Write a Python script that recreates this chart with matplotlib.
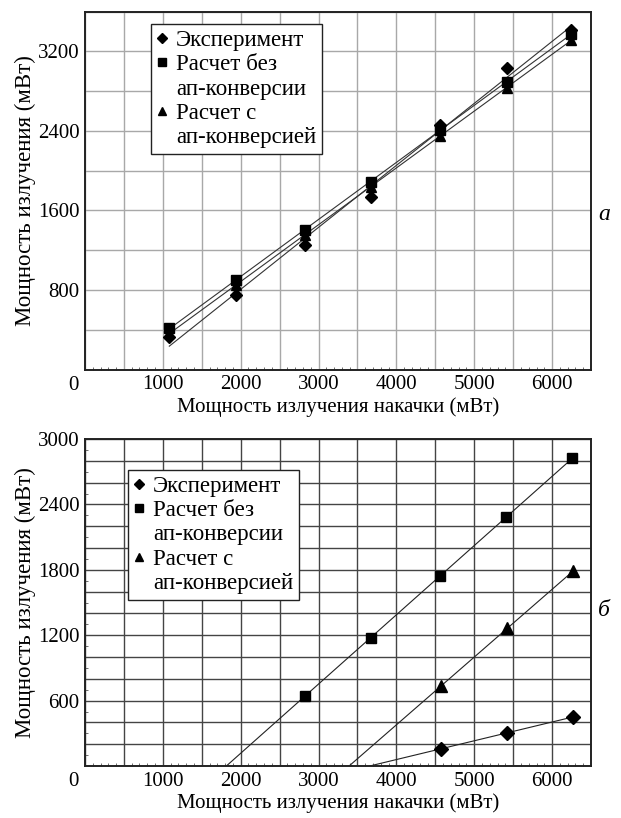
import numpy as np
import matplotlib
matplotlib.use('Agg')
import matplotlib.pyplot as plt
from matplotlib.lines import Line2D
from matplotlib.ticker import MultipleLocator

plt.rcParams['font.family'] = ['Liberation Serif', 'DejaVu Serif']
plt.rcParams['font.size'] = 14

# --- панель а ---
xa = [1083, 1941, 2829, 3674, 4554, 5416, 6248]
exp_a = [323, 750, 1247, 1733, 2460, 3033, 3417]
bez_a = [417, 900, 1407, 1883, 2410, 2890, 3377]
s_a = [367, 850, 1350, 1840, 2350, 2827, 3317]

# --- панель б ---
xb_bez = [2825, 3674, 4558, 5407, 6261]
bez_b = [645, 1172, 1744, 2283, 2822]
xb_s = [4571, 5420, 6270]
s_b = [731, 1263, 1787]
xb_exp = [4575, 5420, 6270]
exp_b = [158, 304, 450]

LEG_LABELS = ['Эксперимент', 'Расчет без', 'ап-конверсии', 'Расчет с', 'ап-конверсией']
XLAB = 'Мощность излучения накачки (мВт)'
YLAB = 'Мощность излучения (мВт)'


def fit_line(ax, x, y, from_zero=False, color='#222222'):
    k, b = np.polyfit(x, y, 1)
    x0 = -b / k if from_zero else x[0]
    xx = np.array([x0, x[-1]])
    ax.plot(xx, k * xx + b, color=color, lw=0.8, zorder=2)


def legend(ax, anchor, ms):
    h = [Line2D([], [], ls='none', marker='D', color='k', ms=ms - 1),
         Line2D([], [], ls='none', marker='s', color='k', ms=ms),
         Line2D([], [], ls='none', marker='none'),
         Line2D([], [], ls='none', marker='^', color='k', ms=ms),
         Line2D([], [], ls='none', marker='none')]
    lg = ax.legend(h, LEG_LABELS, loc='upper left', bbox_to_anchor=anchor, frameon=True,
                   fancybox=False, edgecolor='#222222', framealpha=1, handlelength=0.5,
                   handletextpad=0.35, labelspacing=0.14, borderpad=0.25, borderaxespad=0,
                   fontsize=16.5)
    lg.get_frame().set_linewidth(1.0)
    lg.set_zorder(5)


def style(ax, gridcolor):
    ax.set_xlim(0, 6500)
    ax.xaxis.set_minor_locator(MultipleLocator(100))
    ax.grid(True, which='major', color=gridcolor, lw=1.0, zorder=0)
    ax.tick_params(which='both', direction='in', length=0, labelsize=15, pad=4)
    ax.tick_params(which='minor', length=2, color='#555555')
    ax.set_xticks(range(0, 6501, 500))
    ax.set_xticklabels([str(v) if v in (1000, 2000, 3000, 4000, 5000, 6000) else '' for v in range(0, 6501, 500)])
    for s in ax.spines.values():
        s.set_color('#222222'); s.set_linewidth(1.4)
    ax.set_xlabel(XLAB, fontsize=15, labelpad=2)
    ax.set_ylabel(YLAB, fontsize=16.5, labelpad=1)
    ax.annotate('0', xy=(0, 0), xycoords='axes fraction', xytext=(-12, -6),
                textcoords='offset pixels', ha='center', va='top', fontsize=15)


fig = plt.figure(figsize=(6.21, 8.18), dpi=100)
ax1 = fig.add_axes([85 / 621, 1 - 369.5 / 818, 506 / 621, 358 / 818])
ax2 = fig.add_axes([85 / 621, 1 - 766 / 818, 506 / 621, 327 / 818])

# а
style(ax1, '#a8a8a8')
ax1.set_ylim(0, 3600)
ax1.set_yticks(np.arange(0, 3601, 400))
ax1.set_yticklabels([str(v) if v in (800, 1600, 2400, 3200) else '' for v in range(0, 3601, 400)])
ax1.yaxis.set_minor_locator(MultipleLocator(400))
for y in (exp_a, bez_a, s_a):
    fit_line(ax1, xa, y, color='#333333')
ax1.plot(xa, exp_a, ls='none', marker='D', ms=6, color='k', zorder=3)
ax1.plot(xa, bez_a, ls='none', marker='s', ms=7, color='k', zorder=3)
ax1.plot(xa, s_a, ls='none', marker='^', ms=7, color='k', zorder=3)
legend(ax1, (0.13, 0.964), 6)
fig.text(604 / 621, 1 - 215 / 818, 'а', fontsize=17, style='italic', ha='center', va='center')

# б
style(ax2, '#444444')
ax2.set_ylim(0, 3000)
ax2.set_yticks(np.arange(0, 3001, 200))
ax2.set_yticklabels([str(v) if v in (600, 1200, 1800, 2400, 3000) else '' for v in range(0, 3001, 200)])
ax2.yaxis.set_minor_locator(MultipleLocator(100))
fit_line(ax2, xb_bez, bez_b, from_zero=True)
fit_line(ax2, xb_s, s_b, from_zero=True)
fit_line(ax2, xb_exp, exp_b, from_zero=True)
ax2.plot(xb_exp, exp_b, ls='none', marker='D', ms=7, color='k', zorder=3)
ax2.plot(xb_bez, bez_b, ls='none', marker='s', ms=7, color='k', zorder=3)
ax2.plot(xb_s, s_b, ls='none', marker='^', ms=9, color='k', zorder=3)
legend(ax2, (0.085, 0.905), 6)
fig.text(604 / 621, 1 - 610 / 818, 'б', fontsize=17, style='italic', ha='center', va='center')

fig.savefig('out.png', dpi=100, facecolor='white')
